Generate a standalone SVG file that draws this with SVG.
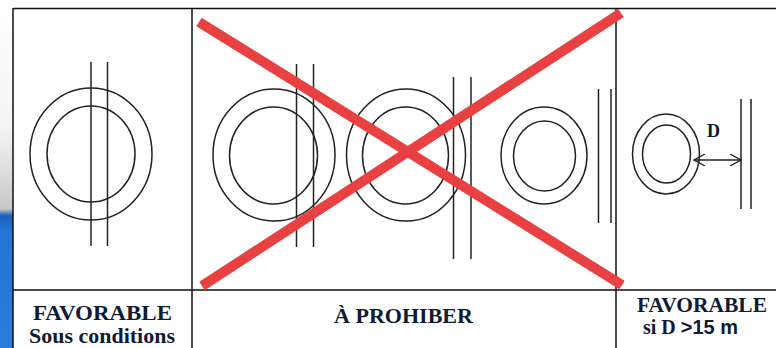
<svg xmlns="http://www.w3.org/2000/svg" width="776" height="348" viewBox="0 0 776 348">
  <defs>
    <linearGradient id="side" x1="0" y1="0" x2="0" y2="1">
      <stop offset="0" stop-color="#ffffff"/>
      <stop offset="0.37" stop-color="#f4f4f4"/>
      <stop offset="0.6" stop-color="#c8c8c8"/>
      <stop offset="0.62" stop-color="#1a5fb8"/>
      <stop offset="0.66" stop-color="#2374d4"/>
      <stop offset="1" stop-color="#2a7ddb"/>
    </linearGradient>
    <marker id="open" viewBox="0 0 12 12" refX="11" refY="6" markerWidth="12" markerHeight="12" markerUnits="userSpaceOnUse" orient="auto-start-reverse">
      <path d="M0,0 L11,6 L0,12" fill="none" stroke="#222" stroke-width="1.3"/>
    </marker>
  </defs>
  <style>
    .sym { fill: none; stroke: #222; stroke-width: 1.5; }
    .grid { stroke: #111; stroke-width: 1.5; fill: none; }
    .lbl { font-family: "Liberation Serif", "Times New Roman", serif; font-weight: bold; fill: #0f1a33; text-anchor: middle; }
    .cross { stroke: #e94141; stroke-width: 10; }
  </style>
  <rect width="776" height="348" fill="#ffffff"/>
  <rect x="0" y="0" width="13" height="348" fill="url(#side)"/>

  <g id="table">
    <path class="grid" d="M13,8.5 H776 M13,8 V348 M13,290 H776 M192,8 V348 M616,8 V348"/>
  </g>

  <g id="col-favorable-sous-conditions">
    <ellipse class="sym" cx="91" cy="154" rx="61" ry="66"/>
    <ellipse class="sym" cx="91" cy="154" rx="44" ry="48"/>
    <line class="sym" x1="91" y1="62" x2="91" y2="246"/>
    <line class="sym" x1="107.5" y1="62" x2="107.5" y2="246"/>
    <text class="lbl" x="102.5" y="320" font-size="20" textLength="139" lengthAdjust="spacingAndGlyphs">FAVORABLE</text>
    <text class="lbl" x="102" y="343" font-size="20" textLength="146" lengthAdjust="spacingAndGlyphs">Sous conditions</text>
  </g>

  <g id="col-a-prohiber">
    <ellipse class="sym" cx="274" cy="155" rx="61" ry="66"/>
    <ellipse class="sym" cx="273.5" cy="155.5" rx="44" ry="48.5"/>
    <line class="sym" x1="296.5" y1="64" x2="296.5" y2="247"/>
    <line class="sym" x1="313.5" y1="64" x2="313.5" y2="247"/>

    <ellipse class="sym" cx="406" cy="155" rx="59.5" ry="66"/>
    <ellipse class="sym" cx="405.5" cy="155.5" rx="43" ry="48.5"/>
    <line class="sym" x1="453.5" y1="77" x2="453.5" y2="259"/>
    <line class="sym" x1="471" y1="77" x2="471" y2="259"/>

    <ellipse class="sym" cx="544" cy="155.5" rx="43" ry="48.5"/>
    <ellipse class="sym" cx="544.5" cy="156" rx="31" ry="35"/>
    <line class="sym" x1="598.5" y1="89" x2="598.5" y2="223"/>
    <line class="sym" x1="611" y1="89" x2="611" y2="223"/>

    <line class="cross" x1="199" y1="22" x2="622" y2="285"/>
    <line class="cross" x1="202" y1="286" x2="621" y2="13"/>

    <text class="lbl" x="403.5" y="323" font-size="22" textLength="139" lengthAdjust="spacingAndGlyphs">À PROHIBER</text>
  </g>

  <g id="col-favorable-si-d">
    <ellipse class="sym" cx="666" cy="154" rx="33.5" ry="40"/>
    <ellipse class="sym" cx="666.5" cy="154" rx="24" ry="29"/>
    <line class="sym" x1="741" y1="99" x2="741" y2="209"/>
    <line class="sym" x1="751" y1="99" x2="751" y2="209"/>
    <text class="lbl" x="713.5" y="137" font-size="18">D</text>
    <text class="lbl" x="702" y="312" font-size="21" textLength="130" lengthAdjust="spacingAndGlyphs">FAVORABLE</text>
    <text class="lbl" x="690.5" y="334" font-size="20">si D <tspan font-family="'Liberation Sans', Arial, sans-serif">&gt;15 m</tspan></text>
  </g>

  <g id="connectors">
    <line class="sym" x1="694" y1="160" x2="741" y2="160" marker-start="url(#open)" marker-end="url(#open)"/>
  </g>
</svg>
